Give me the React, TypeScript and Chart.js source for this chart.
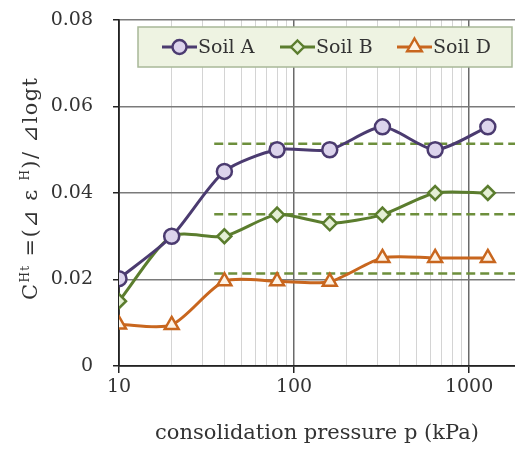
import { useEffect, useRef } from "react";
import { Chart, registerables } from "chart.js";
Chart.register(...registerables);

const pressures = [10, 20, 40, 80, 160, 320, 640, 1280];
const soilA = [0.0202, 0.03, 0.045, 0.05, 0.05, 0.0553, 0.05, 0.0553];
const soilB = [0.015, 0.03, 0.03, 0.035, 0.033, 0.035, 0.04, 0.04];
const soilD = [0.0096, 0.0095, 0.0196, 0.0196, 0.0195, 0.025, 0.025, 0.025];
const refStart = 35;
const refLevels = [0.0514, 0.0351, 0.0214];
const xMin = 10;
const xMax = 1830;
const xLabels = [10, 100, 1000];
const seriesNames = ["Soil A", "Soil B", "Soil D"];

const COL_A = "#4b3b70";
const FILL_A = "#dcd4ec";
const COL_B = "#5b7d2e";
const FILL_B = "#e4efd4";
const COL_D = "#c8661e";
const FILL_D = "#fdf3e6";
const COL_REF = "#6d8f3c";
const FONT = "'DejaVu Serif', 'Liberation Serif', serif";
const TEXT = "#333";

function drawMarker(ctx: CanvasRenderingContext2D, style: string, x: number, y: number, r: number, stroke: string, fill: string) {
  ctx.save();
  ctx.beginPath();
  if (style === "circle") {
    ctx.arc(x, y, r, 0, Math.PI * 2);
  } else if (style === "rectRot") {
    ctx.moveTo(x, y - r);
    ctx.lineTo(x + r, y);
    ctx.lineTo(x, y + r);
    ctx.lineTo(x - r, y);
    ctx.closePath();
  } else {
    ctx.moveTo(x, y - r);
    ctx.lineTo(x + r * 0.87, y + r * 0.5);
    ctx.lineTo(x - r * 0.87, y + r * 0.5);
    ctx.closePath();
  }
  ctx.fillStyle = fill;
  ctx.fill();
  ctx.lineWidth = 2.4;
  ctx.strokeStyle = stroke;
  ctx.stroke();
  ctx.restore();
}

const legendPlugin = {
  id: "customLegend",
  afterDatasetsDraw(chart: any) {
    const ctx = chart.ctx as CanvasRenderingContext2D;
    ctx.save();
    ctx.fillStyle = "#eef3e2";
    ctx.strokeStyle = "#a8b898";
    ctx.lineWidth = 1.5;
    ctx.fillRect(138, 27, 374, 40);
    ctx.strokeRect(138, 27, 374, 40);
    const entries = [
      { x: 162, style: "circle", c: COL_A, f: FILL_A, r: 7 },
      { x: 280, style: "rectRot", c: COL_B, f: FILL_B, r: 6.5 },
      { x: 397, style: "triangle", c: COL_D, f: FILL_D, r: 8.5 },
    ];
    const y = 47;
    entries.forEach((e, i) => {
      ctx.strokeStyle = e.c;
      ctx.lineWidth = 3;
      ctx.beginPath();
      ctx.moveTo(e.x, y);
      ctx.lineTo(e.x + 35, y);
      ctx.stroke();
      drawMarker(ctx, e.style, e.x + 17.5, y, e.r, e.c, e.f);
      ctx.fillStyle = TEXT;
      ctx.font = `19px ${FONT}`;
      ctx.textBaseline = "middle";
      ctx.textAlign = "left";
      ctx.fillText(seriesNames[i], e.x + 36, y + 1);
    });
    ctx.restore();
  },
};

const yTitlePlugin = {
  id: "yTitle",
  afterDraw(chart: any) {
    const ctx = chart.ctx as CanvasRenderingContext2D;
    const pieces: [string, boolean][] = [
      ["C", false],
      ["Ht", true],
      [" =(\u22BF \u03B5 ", false],
      ["H", true],
      [")/ \u22BFlogt", false],
    ];
    const big = `21px ${FONT}`;
    const small = `12px ${FONT}`;
    const target = 222;
    ctx.save();
    let natural = 0;
    let n = 0;
    pieces.forEach(([t, sup]) => {
      ctx.font = sup ? small : big;
      natural += ctx.measureText(t).width;
      n += t.length;
    });
    const extra = Math.max(0, (target - natural) / (n - 1));
    ctx.translate(32, 189);
    ctx.rotate(-Math.PI / 2);
    ctx.fillStyle = TEXT;
    ctx.textBaseline = "middle";
    ctx.textAlign = "left";
    let x = -target / 2;
    pieces.forEach(([t, sup]) => {
      ctx.font = sup ? small : big;
      for (const ch of t) {
        ctx.fillText(ch, x, sup ? -6 : 0);
        x += ctx.measureText(ch).width + extra;
      }
    });
    ctx.restore();
  },
};

export default function App() {
  const ref = useRef<HTMLCanvasElement | null>(null);
  useEffect(() => {
    if (!ref.current) return;
    Chart.defaults.font.family = FONT;
    Chart.defaults.color = TEXT;
    const mk = (vals: number[]) => pressures.map((p, i) => ({ x: p, y: vals[i] }));
    const refSets = refLevels.map((lv) => ({
      label: "ref",
      data: [
        { x: refStart, y: lv },
        { x: xMax, y: lv },
      ],
      borderColor: COL_REF,
      borderWidth: 2.5,
      borderDash: [9, 5],
      pointRadius: 0,
      tension: 0,
      order: 5,
    }));
    const chart = new Chart(ref.current, {
      type: "line",
      data: {
        datasets: [
          ...refSets,
          {
            label: seriesNames[0],
            data: mk(soilA),
            borderColor: COL_A,
            backgroundColor: FILL_A,
            pointBackgroundColor: FILL_A,
            pointBorderColor: COL_A,
            pointStyle: "circle",
            pointRadius: 7.5,
            pointBorderWidth: 2.5,
            borderWidth: 3,
            tension: 0.25,
            order: 1,
          },
          {
            label: seriesNames[1],
            data: mk(soilB),
            borderColor: COL_B,
            backgroundColor: FILL_B,
            pointBackgroundColor: FILL_B,
            pointBorderColor: COL_B,
            pointStyle: "rectRot",
            pointRadius: 7,
            pointBorderWidth: 2.5,
            borderWidth: 3,
            tension: 0.25,
            order: 2,
          },
          {
            label: seriesNames[2],
            data: mk(soilD),
            borderColor: COL_D,
            backgroundColor: FILL_D,
            pointBackgroundColor: FILL_D,
            pointBorderColor: COL_D,
            pointStyle: "triangle",
            pointRadius: 8,
            pointBorderWidth: 2.5,
            borderWidth: 3,
            tension: 0.25,
            order: 3,
          },
        ] as any,
      },
      options: {
        animation: false,
        responsive: true,
        maintainAspectRatio: false,
        layout: { autoPadding: false, padding: { top: 20, left: 0, right: 0, bottom: 0 } },
        plugins: { legend: { display: false }, tooltip: { enabled: false } },
        scales: {
          x: {
            type: "logarithmic",
            min: xMin,
            max: xMax,
            bounds: "data",
            afterBuildTicks: (scale: any) => {
              const t: any[] = [];
              for (let d = 10; d <= 1000; d *= 10) {
                for (let m = 1; m <= 9; m++) {
                  const v = m * d;
                  if (v <= xMax) t.push({ value: v });
                }
              }
              scale.ticks = t;
            },
            afterFit: (scale: any) => {
              scale.height = 84;
              scale.paddingRight = 0;
              scale.paddingLeft = 0;
            },
            ticks: {
              autoSkip: false,
              maxRotation: 0,
              padding: 3,
              font: { size: 19, family: FONT },
              color: TEXT,
              callback: (v: any) => (xLabels.includes(Number(v)) ? String(v) : ""),
            },
            grid: {
              color: (c: any) => (xLabels.includes(c.tick?.value) ? "#6a6a6a" : "#d4d4d4"),
              lineWidth: (c: any) => (xLabels.includes(c.tick?.value) ? 1.5 : 1),
              tickColor: (c: any) => (xLabels.includes(c.tick?.value) ? "#222" : "rgba(0,0,0,0)"),
              tickLength: 7,
            },
            border: { color: "#222", width: 1.8 },
            title: {
              display: true,
              text: "consolidation pressure p (kPa)",
              font: { size: 21, family: FONT },
              color: TEXT,
              padding: { top: 10 },
            },
          },
          y: {
            type: "linear",
            min: 0,
            max: 0.08,
            afterFit: (scale: any) => {
              scale.width = 119;
              scale.paddingTop = 0;
              scale.paddingBottom = 0;
            },
            ticks: {
              stepSize: 0.02,
              padding: 20,
              font: { size: 19, family: FONT },
              color: TEXT,
              callback: (v: any) => (Number(v) === 0 ? "0" : Number(v).toFixed(2)),
            },
            grid: { color: "#7a7a7a", lineWidth: 1.5, tickColor: "#222", tickLength: 6 },
            border: { color: "#222", width: 1.8 },
          },
        },
      },
      plugins: [legendPlugin, yTitlePlugin],
    });
    return () => chart.destroy();
  }, []);
  return (
    <div style={{ position: "absolute", left: 0, top: 0, width: 515, height: 450, background: "#fff" }}>
      <canvas ref={ref} />
    </div>
  );
}
